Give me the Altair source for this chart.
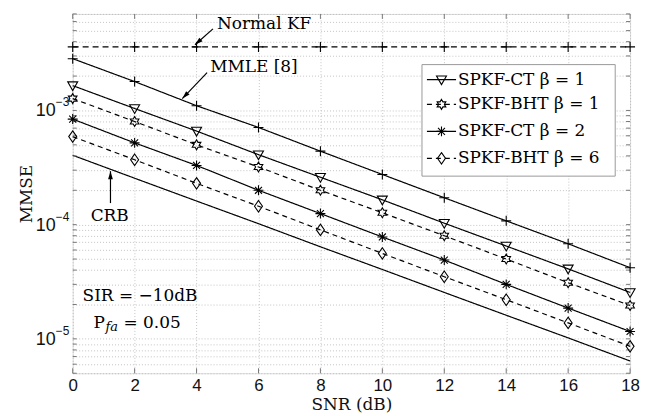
import altair as alt
import pandas as pd

# ---------------- data ----------------
snr = [0, 2, 4, 6, 8, 10, 12, 14, 16, 18]
normal_kf = [3.6e-3, 3.6e-3, 3.6e-3, 3.6e-3, 3.6e-3, 3.6e-3, 3.6e-3, 3.6e-3, 3.6e-3, 3.6e-3]
mmle = [2.84e-3, 1.79e-3, 1.10e-3, 7.1e-4, 4.4e-4, 2.75e-4, 1.72e-4, 1.08e-4, 6.8e-5, 4.2e-5]
spkf_ct_b1 = [1.65e-3, 1.04e-3, 6.6e-4, 4.1e-4, 2.6e-4, 1.65e-4, 1.03e-4, 6.5e-5, 4.1e-5, 2.55e-5]
spkf_bht_b1 = [1.27e-3, 8.0e-4, 5.0e-4, 3.2e-4, 2.0e-4, 1.27e-4, 8.0e-5, 5.0e-5, 3.1e-5, 1.96e-5]
spkf_ct_b2 = [8.4e-4, 5.2e-4, 3.3e-4, 2.0e-4, 1.25e-4, 7.8e-5, 4.9e-5, 3.0e-5, 1.86e-5, 1.16e-5]
spkf_bht_b6 = [5.9e-4, 3.7e-4, 2.3e-4, 1.45e-4, 9.0e-5, 5.6e-5, 3.5e-5, 2.2e-5, 1.38e-5, 8.6e-6]
crb = [4.05e-4, 2.55e-4, 1.61e-4, 1.02e-4, 6.4e-5, 4.05e-5, 2.55e-5, 1.61e-5, 1.02e-5, 6.4e-6]

series_names = ["Normal KF", "MMLE [8]", "SPKF-CT β = 1", "SPKF-BHT β = 1",
                "SPKF-CT β = 2", "SPKF-BHT β = 6", "CRB"]
series_values = [normal_kf, mmle, spkf_ct_b1, spkf_bht_b1, spkf_ct_b2, spkf_bht_b6, crb]
legend_names = ["SPKF-CT β = 1", "SPKF-BHT β = 1", "SPKF-CT β = 2", "SPKF-BHT β = 6"]

x_ticks = [0, 2, 4, 6, 8, 10, 12, 14, 16, 18]
y_grid = [5e-6, 6e-6, 7e-6, 8e-6, 9e-6,
          1e-5, 2e-5, 3e-5, 4e-5, 5e-5, 6e-5, 7e-5, 8e-5, 9e-5,
          1e-4, 2e-4, 3e-4, 4e-4, 5e-4, 6e-4, 7e-4, 8e-4, 9e-4,
          1e-3, 2e-3, 3e-3, 4e-3, 5e-3, 6e-3, 7e-3]
y_decades = [1e-3, 1e-4, 1e-5]
y_exponents = ["−3", "−4", "−5"]

# ---------------- styles ----------------
W, H = 560, 361
SERIF = "DejaVu Serif"
SANS = "Liberation Sans"
FS = 17
dash_range = [[6, 4], [1, 0], [1, 0], [5, 4], [1, 0], [5, 4], [1, 0]]
PLUS = "M-1,0L1,0M0,-1L0,1"
TRI_DOWN = "M-1,-0.75L1,-0.75L0,1Z"
HEXAGRAM = ("M0,-1L0.289,-0.5L0.866,-0.5L0.577,0L0.866,0.5L0.289,0.5L0,1"
            "L-0.289,0.5L-0.866,0.5L-0.577,0L-0.866,-0.5L-0.289,-0.5Z")
ASTERISK = "M-1,0L1,0M0,-1L0,1M-0.7,-0.7L0.7,0.7M-0.7,0.7L0.7,-0.7"
DIAMOND = "M0,-1.15L0.8,0L0,1.15L-0.8,0Z"
shape_range = [PLUS, PLUS, TRI_DOWN, HEXAGRAM, ASTERISK, DIAMOND, "circle"]

rows = []
for name, vals in zip(series_names, series_values):
    for s, v in zip(snr, vals):
        rows.append({"series": name, "snr": s, "mmse": v})
df = pd.DataFrame(rows)
df_pts = df[df.series != "CRB"]

x_scale = alt.Scale(domain=[0, 18], nice=False, zero=False)
y_scale = alt.Scale(type="log", domain=[5e-6, 7e-3], nice=False)
dash_scale = alt.Scale(domain=series_names, range=dash_range)
shape_scale = alt.Scale(domain=series_names, range=shape_range)

x_axis = alt.Axis(values=x_ticks, title="SNR (dB)", grid=True, gridColor="#b5b5b5",
                  gridDash=[1, 2], gridWidth=0.8, domain=False, ticks=False,
                  labelFont=SANS, labelFontSize=17, labelColor="#111", labelPadding=4,
                  titleFont=SERIF, titleFontSize=FS, titleFontWeight="normal",
                  titleColor="#111", titlePadding=3, labelFlush=False)
y_axis = alt.Axis(values=y_grid, title="MMSE", grid=True, gridColor="#b5b5b5",
                  gridDash=[1, 2], gridWidth=0.8, domain=False, ticks=False, labels=False,
                  titleFont=SERIF, titleFontSize=FS, titleFontWeight="normal",
                  titleColor="#111", titlePadding=37)


def XQ(field):
    return alt.X(field, type="quantitative", scale=x_scale, axis=x_axis)


def YQ(field):
    return alt.Y(field, type="quantitative", scale=y_scale, axis=y_axis)


lines = alt.Chart(df).mark_line(color="black", strokeWidth=1.2).encode(
    x=XQ("snr"), y=YQ("mmse"),
    strokeDash=alt.StrokeDash("series:N", scale=dash_scale, legend=None),
    detail="series:N",
)
points = alt.Chart(df_pts).mark_point(filled=False, color="black", size=100,
                                      strokeWidth=1.1, opacity=1).encode(
    x=XQ("snr"), y=YQ("mmse"),
    shape=alt.Shape("series:N", scale=shape_scale, legend=None),
)

# frame ticks (inward, MATLAB style)
tx = pd.DataFrame({"snr": x_ticks})
ty = pd.DataFrame({"mmse": y_grid})
tick_col = "#777"
xt_b = alt.Chart(tx).mark_rule(color=tick_col).encode(
    x=XQ("snr"), y=alt.value(H), y2=alt.value(H - 5))
xt_t = alt.Chart(tx).mark_rule(color=tick_col).encode(
    x=XQ("snr"), y=alt.value(0), y2=alt.value(5))
yt_l = alt.Chart(ty).mark_rule(color=tick_col).encode(
    y=YQ("mmse"), x=alt.value(0), x2=alt.value(4))
yt_r = alt.Chart(ty).mark_rule(color=tick_col).encode(
    y=YQ("mmse"), x=alt.value(W), x2=alt.value(W - 4))

# y tick labels 10^k
dec = pd.DataFrame({"mmse": y_decades, "e": y_exponents})
ylab_base = alt.Chart(dec).mark_text(text="10", font=SANS, fontSize=18, color="#111",
                                     align="right", baseline="middle", dy=1).encode(
    y=YQ("mmse"), x=alt.value(-17))
ylab_exp = alt.Chart(dec).mark_text(font=SANS, fontSize=12, color="#111",
                                    align="left", baseline="middle", dy=-8).encode(
    y=YQ("mmse"), x=alt.value(-17), text="e:N")

# annotations (data coordinates)
ann_text = pd.DataFrame({
    "snr": [4.66, 4.44, 0.58, 0.32],
    "mmse": [5.7e-3, 2.42e-3, 1.19e-4, 2.39e-5],
    "t": ["Normal KF", "MMLE [8]", "CRB", "SIR = −10dB"],
})
ann = alt.Chart(ann_text).mark_text(font=SERIF, fontSize=FS, align="left",
                                    baseline="middle", color="black").encode(
    x=XQ("snr"), y=YQ("mmse"), text="t:N")
pfa = pd.DataFrame({"snr": [0.675], "mmse": [1.39e-5]})
pfa_p = alt.Chart(pfa).mark_text(text="P", font=SERIF, fontSize=FS, align="left",
                                 baseline="middle").encode(x=XQ("snr"), y=YQ("mmse"))
pfa_s = alt.Chart(pfa).mark_text(text="fa", font=SERIF, fontSize=13, fontStyle="italic",
                                 align="left", baseline="middle", dx=12, dy=5).encode(
    x=XQ("snr"), y=YQ("mmse"))
pfa_e = alt.Chart(pfa).mark_text(text="= 0.05", font=SERIF, fontSize=FS, align="left",
                                 baseline="middle", dx=30).encode(x=XQ("snr"), y=YQ("mmse"))

arrows = pd.DataFrame({
    "snr": [4.53, 4.34, 1.22], "mmse": [5.18e-3, 2.14e-3, 1.545e-4],
    "snr2": [3.95, 3.54, 1.22], "mmse2": [3.76e-3, 1.27e-3, 2.94e-4],
    "ang": [228, 224, 0],
})
arrow_lines = alt.Chart(arrows).mark_rule(color="black", strokeWidth=1.2).encode(
    x=XQ("snr"), y=YQ("mmse"), x2="snr2:Q", y2="mmse2:Q")
arrow_heads = alt.Chart(arrows).mark_point(shape="M0,0L-0.3,1L0.3,1Z", filled=True,
                                           color="black", size=256, opacity=1).encode(
    x=XQ("snr2"), y=YQ("mmse2"),
    angle=alt.Angle("ang:Q", scale=None))

# legend box (data coordinates)
box = pd.DataFrame({"snr": [11.28], "snr2": [17.52], "mmse": [2.52e-3], "mmse2": [2.66e-4]})
legend_box = alt.Chart(box).mark_rect(fill="white", stroke="#999", strokeWidth=1).encode(
    x=XQ("snr"), x2="snr2:Q", y=YQ("mmse"), y2="mmse2:Q")
leg = pd.DataFrame({"series": legend_names,
                    "mmse": [1.86e-3, 1.13e-3, 6.56e-4, 3.81e-4],
                    "snr": [11.44] * 4, "snr2": [12.38] * 4, "xm": [11.91] * 4,
                    "xt": [12.44] * 4})
leg_lines = alt.Chart(leg).mark_rule(color="black", strokeWidth=1.2).encode(
    x=XQ("snr"), x2="snr2:Q", y=YQ("mmse"),
    strokeDash=alt.StrokeDash("series:N", scale=dash_scale, legend=None))
leg_pts = alt.Chart(leg).mark_point(filled=False, color="black", size=100,
                                    strokeWidth=1.1, opacity=1).encode(
    x=XQ("xm"), y=YQ("mmse"),
    shape=alt.Shape("series:N", scale=shape_scale, legend=None))
leg_text = alt.Chart(leg).mark_text(font=SERIF, fontSize=FS, align="left",
                                    baseline="middle", color="black").encode(
    x=XQ("xt"), y=YQ("mmse"), text="series:N")

chart = alt.layer(
    lines, xt_b, xt_t, yt_l, yt_r, points, ylab_base, ylab_exp,
    ann, pfa_p, pfa_s, pfa_e, arrow_lines, arrow_heads,
    legend_box, leg_lines, leg_pts, leg_text,
).properties(
    width=W, height=H,
    padding={"left": 10, "top": 4, "right": 5, "bottom": 2},
).configure_view(
    stroke="#999", strokeWidth=1, fill="white"
).configure(background="white")

chart.save("out.html", embed_options={"renderer": "svg", "actions": False})
